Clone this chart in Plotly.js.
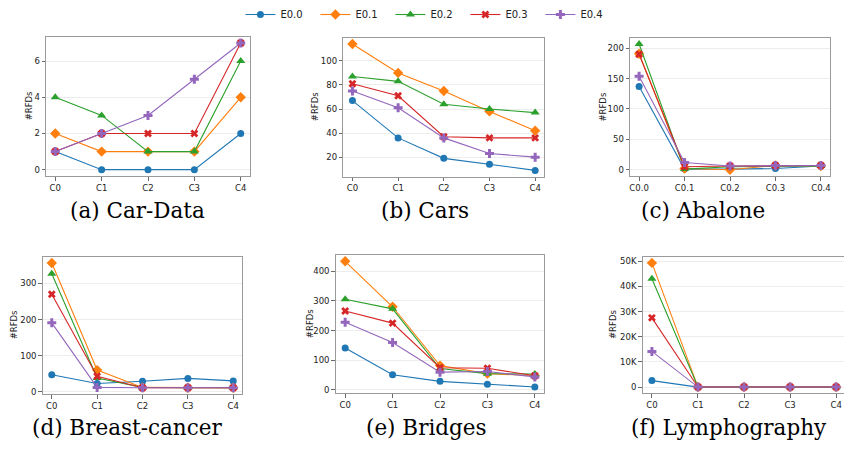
<!DOCTYPE html>
<html>
<head>
<meta charset="utf-8">
<script src="https://cdn.plot.ly/plotly-3.0.1.min.js"></script>
<style>html,body{margin:0;padding:0;background:#fff;}#chart{width:844px;height:449px;}</style>
</head>
<body>
<div id="chart"></div>
<script>
// ---- data ----
const seriesNames = ['E0.0', 'E0.1', 'E0.2', 'E0.3', 'E0.4'];
const categories = ['C0', 'C1', 'C2', 'C3', 'C4'];
const abaloneCategories = ['C0.0', 'C0.1', 'C0.2', 'C0.3', 'C0.4'];

// each row = one series (E0.0 .. E0.4), values at C0..C4
const carData = [
  [1, 0, 0, 0, 2],
  [2, 1, 1, 1, 4],
  [4, 3, 1, 1, 6],
  [1, 2, 2, 2, 7],
  [1, 2, 3, 5, 7]
];
const cars = [
  [67, 36, 19, 14, 9],
  [114, 90, 75, 58, 42],
  [87, 83, 64, 60, 57],
  [81, 71, 37, 36, 36],
  [75, 61, 36, 23, 20]
];
const abalone = [
  [137, 1, 1, 2, 6],
  [191, 2, 0, 7, 6],
  [207, 1, 5, 6, 6],
  [190, 5, 6, 7, 7],
  [154, 12, 6, 7, 7]
];
const breastCancer = [
  [47, 23, 29, 37, 30],
  [357, 60, 12, 11, 11],
  [327, 38, 12, 11, 11],
  [270, 43, 11, 11, 11],
  [191, 12, 11, 11, 11]
];
const bridges = [
  [141, 51, 29, 19, 10],
  [433, 280, 82, 55, 48],
  [305, 273, 72, 55, 54],
  [266, 225, 75, 73, 48],
  [228, 160, 60, 62, 44]
];
const lymphography = [
  [2600, 30, 30, 30, 30],
  [49300, 40, 40, 40, 40],
  [43000, 40, 40, 40, 40],
  [27500, 40, 40, 40, 40],
  [14200, 40, 40, 40, 40]
];

const captions = ['(a) Car-Data', '(b) Cars', '(c) Abalone', '(d) Breast-cancer', '(e) Bridges', '(f) Lymphography'];
const yTicks = [
  [0, 2, 4, 6],
  [20, 40, 60, 80, 100],
  [0, 50, 100, 150, 200],
  [0, 100, 200, 300],
  [0, 100, 200, 300, 400],
  [0, 10000, 20000, 30000, 40000, 50000]
];
const yTickText = [
  ['0', '2', '4', '6'],
  ['20', '40', '60', '80', '100'],
  ['0', '50', '100', '150', '200'],
  ['0', '100', '200', '300'],
  ['0', '100', '200', '300', '400'],
  ['0', '10K', '20K', '30K', '40K', '50K']
];

// ---- styling ----
const colors = ['#1f77b4', '#ff7f0e', '#2ca02c', '#d62728', '#9467bd'];
const symbols = ['circle', 'diamond', 'triangle-up', 'x', 'cross'];
const msizes = [7, 8, 8, 7, 7.5];

const W = 844, H = 449;
// plot boxes in pixels: [left, right, top, bottom]
const boxes = [
  [46, 250, 36.7, 176],
  [343.3, 544.3, 37.7, 176.7],
  [630, 830, 37.7, 176],
  [42.7, 242.3, 256.7, 394],
  [335.7, 544.3, 255, 393.3],
  [642.7, 844, 256.7, 393.3]
];
const xRanges = [[-0.2, 4.2], [-0.2, 4.2], [-0.2, 4.2], [-0.2, 4.2], [-0.2, 4.2], [-0.2, 4.17]];
const datasets = [carData, cars, abalone, breastCancer, bridges, lymphography];
const captionPos = [[137.5, 210], [424.5, 210], [703, 210], [126.5, 427], [426.5, 427], [728.5, 427]];
const yTitleX = [29, 315, 602.7, 14, 310, 613];

function px(x) { return x / W; }
function py(y) { return 1 - y / H; }

function dataRange(ds) {
  let mn = Infinity, mx = -Infinity;
  ds.forEach(r => r.forEach(v => { mn = Math.min(mn, v); mx = Math.max(mx, v); }));
  const pad = (mx - mn) * 0.05;
  return [mn - pad, mx + pad];
}

const traces = [];
const layout = {
  width: W, height: H,
  margin: {l: 0, r: 0, t: 0, b: 0},
  paper_bgcolor: '#fff', plot_bgcolor: '#fff',
  showlegend: true,
  legend: {
    orientation: 'h', x: 0.507, xanchor: 'center', y: 1, yanchor: 'top',
    font: {family: 'DejaVu Sans', size: 10, color: '#222'},
    entrywidth: 30, itemwidth: 30
  },
  annotations: []
};

datasets.forEach((ds, i) => {
  const n = i + 1;
  const xa = 'x' + (n === 1 ? '' : n);
  const ya = 'y' + (n === 1 ? '' : n);
  const cats = i === 2 ? abaloneCategories : categories;
  ds.forEach((vals, s) => {
    traces.push({
      type: 'scatter', mode: 'lines+markers',
      x: cats, y: vals, xaxis: xa, yaxis: ya,
      name: seriesNames[s], legendgroup: seriesNames[s], showlegend: i === 0,
      line: {color: colors[s], width: 1.1},
      marker: {color: colors[s], symbol: symbols[s], size: msizes[s], line: {width: 0}}
    });
  });
  const b = boxes[i];
  const axCommon = {
    showline: true, linecolor: '#9a9a9a', linewidth: 1,
    ticks: 'outside', ticklen: 3.5, tickwidth: 0.8, tickcolor: '#444',
    tickfont: {family: 'DejaVu Sans', size: 8.5, color: '#222'},
    zeroline: false, fixedrange: true
  };
  layout['xaxis' + (n === 1 ? '' : n)] = Object.assign({}, axCommon, {
    anchor: ya, domain: [px(b[0]), Math.min(1, px(b[1]))],
    type: 'category', range: xRanges[i], showgrid: false,
    mirror: true
  });
  layout['yaxis' + (n === 1 ? '' : n)] = Object.assign({}, axCommon, {
    anchor: xa, domain: [py(b[3]), py(b[2])],
    range: dataRange(ds), tickvals: yTicks[i], ticktext: yTickText[i],
    showgrid: true, gridcolor: '#e9e9e9', gridwidth: 0.8,
    mirror: i === 5 ? false : true
  });
  layout.annotations.push({
    xref: 'paper', yref: 'paper', x: px(captionPos[i][0]), y: py(captionPos[i][1]),
    xanchor: 'center', yanchor: 'middle', showarrow: false,
    text: captions[i], font: {family: 'DejaVu Serif', size: 21.5, color: '#000'}
  });
  layout.annotations.push({
    xref: 'paper', yref: 'paper', x: px(yTitleX[i]), y: py((b[2] + b[3]) / 2),
    xanchor: 'center', yanchor: 'middle', showarrow: false, textangle: -90,
    text: '#RFDs', font: {family: 'DejaVu Sans', size: 8.5, color: '#222'}
  });
});

Plotly.newPlot('chart', traces, layout, {displayModeBar: false, staticPlot: true});
</script>
</body>
</html>
